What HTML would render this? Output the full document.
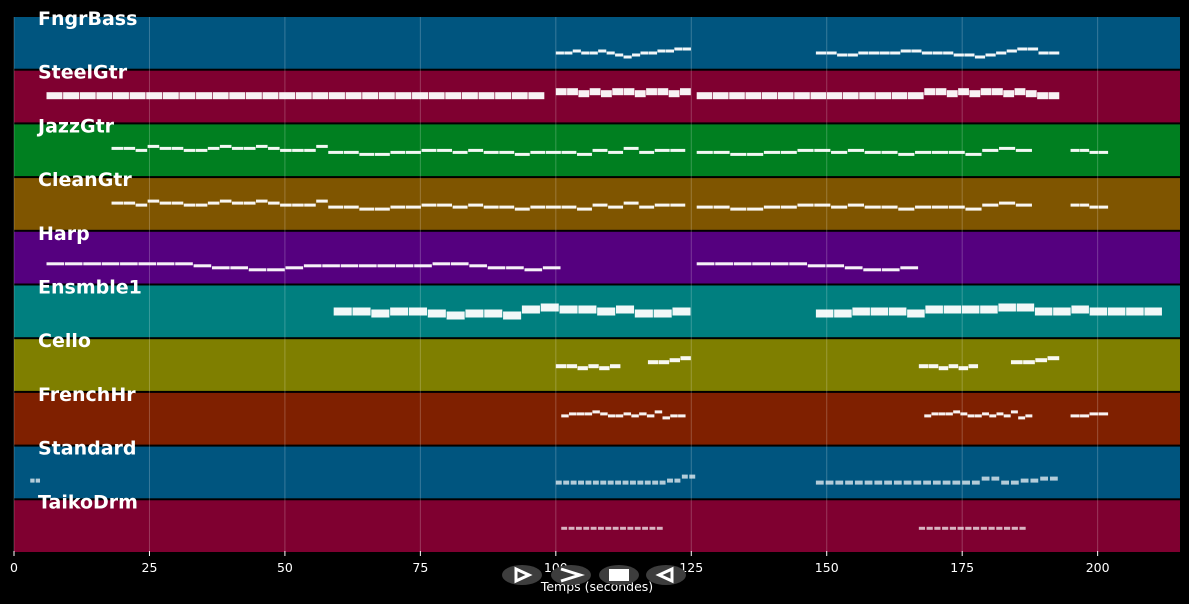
<!DOCTYPE html>
<html><head><meta charset="utf-8"><style>
html,body{margin:0;padding:0;background:#000;width:1189px;height:604px;overflow:hidden}
svg{display:block;font-family:"DejaVu Sans","Liberation Sans",sans-serif}
</style></head><body>
<svg id="chart" width="1189" height="604"></svg>
<script>
const trackNames=["FngrBass","SteelGtr","JazzGtr","CleanGtr","Harp","Ensmble1","Cello","FrenchHr","Standard","TaikoDrm"];
const trackColors=["#00557f","#7f0030","#007f20","#7f5500","#55007f","#007f7f","#7f7f00","#7f2000","#00557f","#7f0030"];
const noteCenters=[36,25,24,25,32,26,27,23,34,28];
const noteHeights=[3,7,3,3,3,8,4,3,4,3];
const xTicks=[0,25,50,75,100,125,150,175,200];
// phrases per track: [start, end, pitch offsets]
const phrases=[
 [[100,125,[0,0,1,0,0,1,0,-1,-2,-1,0,0,1,1,2,2]],[148,193,[0,0,-1,-1,0,0,0,0,1,1,0,0,0,-1,-1,-2,-1,0,1,2,2,0,0]]],
 [[6,98,[0,0,0,0,0,0,0,0,0,0,0,0,0,0,0,0,0,0,0,0,0,0,0,0,0,0,0,0,0,0]],[100,125,[2,2,1,2,1,2,2,1,2,2,1,2]],[126,168,[0,0,0,0,0,0,0,0,0,0,0,0,0,0]],[168,193,[2,2,1,2,1,2,2,1,2,1,0,0]]],
 [[18,58,[0,0,-1,1,0,0,-1,-1,0,1,0,0,1,0,-1,-1,-1,1]],[58,124,[-2,-2,-3,-3,-2,-2,-1,-1,-2,-1,-2,-2,-3,-2,-2,-2,-3,-1,-2,0,-2,-1,-1]],[126,188,[-2,-2,-3,-3,-2,-2,-1,-1,-2,-1,-2,-2,-3,-2,-2,-2,-3,-1,0,-1]],[195,202,[-1,-1,-2,-2]]],
 [[18,58,[0,0,-1,1,0,0,-1,-1,0,1,0,0,1,0,-1,-1,-1,1]],[58,124,[-2,-2,-3,-3,-2,-2,-1,-1,-2,-1,-2,-2,-3,-2,-2,-2,-3,-1,-2,0,-2,-1,-1]],[126,188,[-2,-2,-3,-3,-2,-2,-1,-1,-2,-1,-2,-2,-3,-2,-2,-2,-3,-1,0,-1]],[195,202,[-1,-1,-2,-2]]],
 [[6,101,[0,0,0,0,0,0,0,0,-1,-2,-2,-3,-3,-2,-1,-1,-1,-1,-1,-1,-1,0,0,-1,-2,-2,-3,-2]],[126,167,[0,0,0,0,0,0,-1,-1,-2,-3,-3,-2]]],
 [[59,125,[0,0,-1,0,0,-1,-2,-1,-1,-2,1,2,1,1,0,1,-1,-1,0]],[148,212,[-1,-1,0,0,0,-1,1,1,1,1,2,2,0,0,1,0,0,0,0]]],
 [[100,112,[0,0,-1,0,-1,0]],[117,125,[2,2,3,4]],[167,178,[0,0,-1,0,-1,0]],[184,193,[2,2,3,4]]],
 [[101,124,[0,1,1,1,2,1,0,0,1,0,1,0,2,-1,0,0]],[168,188,[0,1,1,1,2,1,0,0,1,0,1,0,2,-1,0]],[195,202,[0,0,1,1]]],
 [[3,5,[0,0]],[100,126,[-1,-1,-1,-1,-1,-1,-1,-1,-1,-1,-1,-1,-1,-1,-1,0,0,2,2]],[148,193,[-1,-1,-1,-1,-1,-1,-1,-1,-1,-1,-1,-1,-1,-1,-1,-1,-1,1,1,-1,-1,0,0,1,1]]],
 [[101,120,[0,0,0,0,0,0,0,0,0,0,0,0,0,0]],[167,187,[0,0,0,0,0,0,0,0,0,0,0,0,0,0]]]
];
const NS="http://www.w3.org/2000/svg";
const svg=document.getElementById("chart");
const X0=14,X1=1180,XMAX=215.2;
const x=v=>X0+(X1-X0)*v/XMAX;
const TOP=17,BAND=53.7;
const bandTop=i=>TOP+i*BAND;
const PSCALE=2;
function mk(t,a,p){const e=document.createElementNS(NS,t);for(const k in a)e.setAttribute(k,a[k]);(p||svg).appendChild(e);return e;}
trackNames.forEach((n,i)=>{
 const r=mk("rect",{x:X0,y:bandTop(i),width:X1-X0,height:BAND-2,fill:trackColors[i]});
 
 
});
xTicks.forEach(t=>{
 const l=mk("line",{x1:x(t),x2:x(t),y1:TOP,y2:551,stroke:"rgba(255,255,255,0.22)","stroke-width":1});
 
 
 const tk=mk("line",{x1:x(t),x2:x(t),y1:551,y2:556,stroke:"#fff","stroke-width":1});
 
 
 const tx=mk("text",{x:x(t),y:572,fill:"#fff","font-size":12.5,"text-anchor":"middle"});
 tx.textContent=t;
 
 
});
phrases.forEach((ph,i)=>{
 const g=mk("g",{});
 
 
 ph.forEach(p=>{
  const [s,e,ps]=p;const step=(e-s)/ps.length;
  ps.forEach((v,k)=>{
   const h=noteHeights[i];
   const cy=bandTop(i)+noteCenters[i]-v*PSCALE;
   const w=Math.max(1.5,(x(s+step*(k+1))-x(s+step*k))*(i>=8?0.8:0.96));
   const n=mk("rect",{x:x(s+step*k),y:cy-h/2,width:w,height:h,fill:"#fff","fill-opacity":i>=8?0.7:0.95},g);
   
   
  });
 });
});
trackNames.forEach((n,i)=>{
 const t=mk("text",{x:38,y:bandTop(i)+8,fill:"#fff","font-size":19,"font-weight":"bold"});
 t.textContent=n;
 
 
});
const title=mk("text",{x:597,y:591,fill:"#fff","font-size":12.5,"text-anchor":"middle"});
title.textContent="Temps (secondes)";


const btns=[[522,"play"],[571,"forward"],[619,"stop"],[666,"rewind"]];
btns.forEach(([cx,nm])=>{
 const g=mk("g",{});
 
 
 mk("ellipse",{cx:cx,cy:575,rx:20,ry:10,fill:"#3d3d3d"},g);
 if(nm==="play")mk("path",{d:`M${cx-6} 569 L${cx+7} 575 L${cx-6} 581 Z`,fill:"none",stroke:"#fff","stroke-width":3},g);
 if(nm==="forward")mk("path",{d:`M${cx-10} 569 L${cx+9} 575 L${cx-10} 581`,fill:"none",stroke:"#fff","stroke-width":3},g);
 if(nm==="stop")mk("rect",{x:cx-10,y:569,width:20,height:12,fill:"#fff"},g);
 if(nm==="rewind")mk("path",{d:`M${cx+6} 569 L${cx-7} 575 L${cx+6} 581 Z`,fill:"none",stroke:"#fff","stroke-width":3},g);
});
</script>
</body></html>
